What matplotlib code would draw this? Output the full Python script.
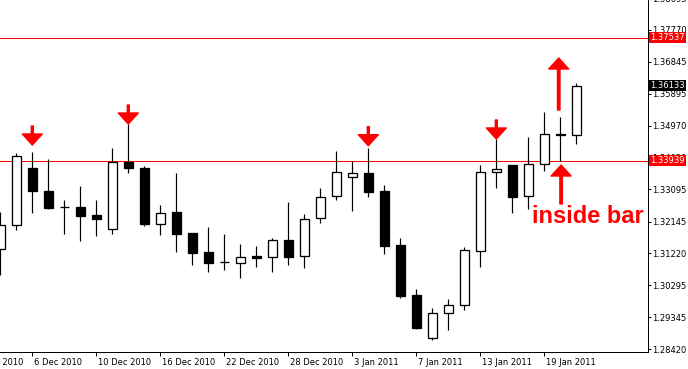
import pandas as pd
import matplotlib.pyplot as plt
import matplotlib.transforms as mtransforms

# daily candles, weekdays from 2 Dec 2010 to 21 Jan 2011
dates = pd.bdate_range('2010-12-02', periods=37)

opens  = [1.31342, 1.32045, 1.33716, 1.33042, 1.32573, 1.32573, 1.32339, 1.31928,
          1.33901, 1.33725, 1.32075, 1.32426, 1.31820, 1.31263, 1.30961, 1.30932,
          1.31146, 1.31108, 1.31606, 1.31137, 1.32251, 1.32895, 1.33452, 1.33570,
          1.33051, 1.31468, 1.30003, 1.28734, 1.29466, 1.29710, 1.31283, 1.33599,
          1.33804, 1.32913, 1.33833, 1.34721, 1.34683]
highs  = [1.32435, 1.34156, 1.34185, 1.33980, 1.32778, 1.33188, 1.32778, 1.34302,
          1.35014, 1.33783, 1.32640, 1.33578, 1.31820, 1.31996, 1.31790, 1.31497,
          1.31439, 1.31664, 1.32728, 1.32377, 1.33139, 1.34223, 1.33921, 1.34311,
          1.33227, 1.31673, 1.30179, 1.29622, 1.29885, 1.31409, 1.33813, 1.34566,
          1.33804, 1.34633, 1.35366, 1.35220, 1.36216]
lows   = [1.30589, 1.31899, 1.32415, 1.32532, 1.31782, 1.31594, 1.31741, 1.31782,
          1.33587, 1.32025, 1.31761, 1.31272, 1.30891, 1.30686, 1.30744, 1.30510,
          1.30832, 1.30686, 1.30891, 1.30803, 1.32122, 1.32787, 1.32473, 1.32884,
          1.31213, 1.29924, 1.29015, 1.28684, 1.28986, 1.29572, 1.30832, 1.33130,
          1.32415, 1.32514, 1.33646, 1.33921, 1.34437]
closes = [1.32045, 1.34068, 1.33042, 1.32561, 1.32573, 1.32327, 1.32239, 1.33892,
          1.33734, 1.32092, 1.32397, 1.31799, 1.31242, 1.30949, 1.30961, 1.31116,
          1.31096, 1.31606, 1.31108, 1.32221, 1.32866, 1.33599, 1.33570, 1.33030,
          1.31448, 1.29982, 1.29044, 1.29466, 1.29701, 1.31313, 1.33599, 1.33695,
          1.32884, 1.33833, 1.34712, 1.34683, 1.36133]

y_ticks = [1.28420, 1.29345, 1.30295, 1.31220, 1.32145, 1.33095, 1.34020,
           1.34970, 1.35895, 1.36845, 1.37770]
y_top_label = 1.38695

levels      = [1.37537, 1.33939]   # red horizontal lines
last_price  = 1.36133

down_arrow_idx = [2, 8, 23, 31]
down_arrow_tip = [1.34399, 1.35014, 1.34378, 1.34575]
inside_idx     = 35
up_arrow_top   = 1.36949   # arrow above the inside bar
up_arrow_low   = 1.33813   # arrow below the inside bar
label_pos      = (33.23, 1.32113)

DPI = 100


def px(v):
    # pixels -> points
    return v * 72 / DPI


fig = plt.figure(figsize=(6.88, 3.69), dpi=DPI)
ax = fig.add_axes([0, 17 / 369, 648 / 688, 352 / 369])

idx = list(range(len(dates)))

# horizontal levels under the candles
for lv in levels:
    ax.axhline(lv, color='#ff0000', linewidth=px(1), zorder=1)

# wicks
ax.vlines(idx, lows, highs, color='black', linewidth=px(1.2), zorder=2)

# bodies
bottoms = [min(o, c) for o, c in zip(opens, closes)]
heights = [abs(c - o) for o, c in zip(opens, closes)]
colors  = ['white' if c >= o else 'black' for o, c in zip(opens, closes)]
ax.bar(idx, heights, bottom=bottoms, width=0.6, color=colors,
       edgecolor='black', linewidth=px(1.3), zorder=3)

# arrows
for k, tip in zip(down_arrow_idx, down_arrow_tip):
    ax.annotate('', xy=(k, tip), xytext=(0, px(19)), textcoords='offset points',
                arrowprops=dict(color='#ff0000', width=px(2), headwidth=px(20),
                                headlength=px(11), shrink=0), zorder=4)

ax.annotate('', xy=(inside_idx - 0.1, up_arrow_top), xytext=(0, -px(52)),
            textcoords='offset points',
            arrowprops=dict(color='#ff0000', width=px(2.5), headwidth=px(20),
                            headlength=px(11), shrink=0), zorder=4)
ax.annotate('', xy=(inside_idx + 0.05, up_arrow_low), xytext=(0, -px(39)),
            textcoords='offset points',
            arrowprops=dict(color='#ff0000', width=px(2.5), headwidth=px(20),
                            headlength=px(11), shrink=0), zorder=4)

ax.text(label_pos[0], label_pos[1], 'inside bar', color='#ff0000',
        fontsize=17, fontweight='bold', family='Liberation Sans',
        ha='left', va='baseline', zorder=4)

# limits (right side left empty like the terminal)
ax.set_xlim(-0.019, 40.48)
ax.set_ylim(1.283321, 1.386486)

# axes frame
for side in ['top', 'left']:
    ax.spines[side].set_visible(False)
for side in ['bottom', 'right']:
    ax.spines[side].set_linewidth(px(1))

# y axis on the right
ax.yaxis.tick_right()
ax.set_yticks(y_ticks)
ax.set_yticklabels([f'{v:.5f}' for v in y_ticks])
ax.tick_params(axis='y', length=px(3), width=px(1), pad=px(1), labelsize=6)

# x axis every 4 bars, labels to the right of the tick
x_ticks = idx[2::4]
ax.set_xticks(x_ticks)
ax.set_xticklabels([f'{dates[k].day} {dates[k].strftime("%b %Y")}' for k in x_ticks])
ax.tick_params(axis='x', length=px(4), width=px(1), pad=px(2), labelsize=6)
shift = mtransforms.ScaledTranslation(2 / DPI, 0, fig.dpi_scale_trans)
for lbl in ax.get_xticklabels():
    lbl.set_horizontalalignment('left')
    lbl.set_transform(lbl.get_transform() + shift)

# cut-off labels at the edges
prev_day = dates[0] - pd.offsets.BDay(2)
ax.text(-2, 0, f'{prev_day.day} {prev_day.strftime("%b %Y")}', fontsize=6,
        ha='left', va='top', clip_on=False,
        transform=mtransforms.blended_transform_factory(ax.transData, ax.transAxes)
        + mtransforms.ScaledTranslation(2 / DPI, -6 / DPI, fig.dpi_scale_trans))

yright = mtransforms.blended_transform_factory(ax.transAxes, ax.transData)
ax.text(1, y_top_label, f'{y_top_label:.5f}', fontsize=6, ha='left',
        va='center_baseline', clip_on=False,
        transform=yright + mtransforms.ScaledTranslation(4 / DPI, 0, fig.dpi_scale_trans))

# price tags on the scale
tag_shift = mtransforms.ScaledTranslation(2.3 / DPI, 0, fig.dpi_scale_trans)
for lv in levels:
    ax.text(1, lv, f'{lv:.5f}', fontsize=6, color='white', ha='left', va='center',
            transform=yright + tag_shift, clip_on=False, zorder=6,
            bbox=dict(boxstyle='square,pad=0.12', fc='#ff0000', ec='none'))
ax.text(1, last_price, f'{last_price:.5f}', fontsize=6, color='white', ha='left',
        va='center', transform=yright + tag_shift, clip_on=False, zorder=6,
        bbox=dict(boxstyle='square,pad=0.12', fc='black', ec='none'))

fig.savefig('out.png', dpi=DPI)
